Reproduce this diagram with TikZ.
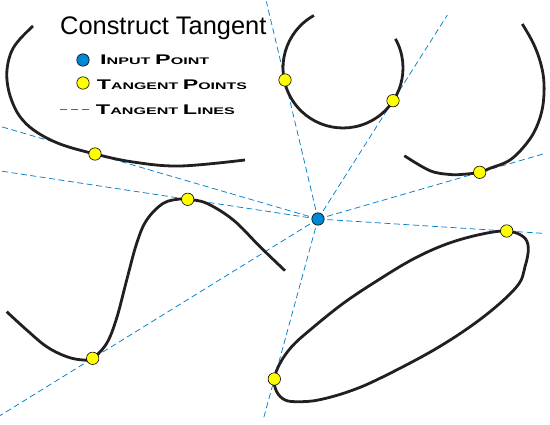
\documentclass[tikz,border=0pt]{standalone}
\usepackage{fontspec}
\setmainfont{Liberation Sans}
\usepackage{graphicx}
\usetikzlibrary{calc}
\definecolor{curvecol}{RGB}{35,31,32}
\definecolor{tblue}{RGB}{0,128,200}
\definecolor{dotblue}{RGB}{0,136,214}
\definecolor{dotyellow}{RGB}{255,255,0}
\newcommand\capsc[2]{{\fontsize{14}{14}\selectfont #1}{\fontsize{9.6}{9.6}\selectfont #2}}
\begin{document}
\begin{tikzpicture}[x=1pt,y=-1pt,
  curveline/.style={line width=2.8pt, draw=curvecol},
  tline/.style={draw=tblue, line width=0.75pt, dash pattern=on 6pt off 3.5pt},
  tpoint/.style={circle, draw=black, line width=0.6pt, fill=dotyellow, minimum size=12.4pt, inner sep=0pt},
  ipoint/.style={circle, draw=black, line width=0.6pt, fill=dotblue, minimum size=12.4pt, inner sep=0pt},
  legend/.style={anchor=base west, inner sep=0pt}]
\useasboundingbox (0,0) rectangle (550,425);
% input and tangent points
\coordinate (P) at (318,219);
\coordinate (T1) at (95,154);
\coordinate (T2) at (187.7,199.3);
\coordinate (T3) at (285,80);
\coordinate (T4) at (393,100.7);
\coordinate (T5) at (479.7,172.3);
\coordinate (T6) at (506.7,231);
\coordinate (T7) at (274.3,379);
\coordinate (T8) at (92.7,358.3);
% tangent lines
\draw[tline] (P) -- ($(P)!1.426!(T1)$);
\draw[tline] (P) -- ($(P)!2.44!(T2)$);
\draw[tline] (P) -- ($(P)!1.565!(T3)$);
\draw[tline] (P) -- ($(P)!1.724!(T4)$);
\draw[tline] (P) -- ($(P)!1.404!(T5)$);
\draw[tline] (P) -- ($(P)!1.187!(T6)$);
\draw[tline] (P) -- ($(P)!1.244!(T7)$);
\draw[tline] (P) -- ($(P)!1.411!(T8)$);
% curves
\draw[curveline] plot[smooth, tension=0.6] coordinates {(33,26) (20,39) (11.7,51) (7.3,67) (7.3,83) (11.5,100) (20,116.7) (35,131) (60,144) (95,154) (133,162) (180,166) (245,160)};
\draw[curveline] (313.9,15.5) arc[start angle=241, end angle=-29, radius=60];
\draw[curveline] plot[smooth, tension=0.6] coordinates {(522.3,24) (533.3,43.3) (540.7,63.3) (544,83.3) (542.7,106.7) (536.7,126.7) (526.7,143.3) (510,160) (490,168.3) (479.7,172.3) (463.3,174.3) (450,174.5) (430,170.7) (404.3,155.7)};
\draw[curveline] plot[smooth, tension=0.6] coordinates {(6.7,311.7) (26.7,330) (46.7,346.7) (66.7,356.7) (83.3,360) (92.7,358.3) (106.7,343.3) (116.7,318) (126.7,280) (136.7,243.3) (146.7,220) (163.3,203.3) (180,199) (187.7,199.3) (206.7,203.3) (233.3,220) (260,246.7) (285,270.7)};
\draw[curveline] plot[smooth cycle, tension=0.6] coordinates {(274.3,379) (280,363.3) (291.7,346.7) (310,330) (343.3,303.3) (378.3,280) (413.3,259) (446.7,244) (480,234.5) (506.7,231) (523.3,236.7) (528.3,248) (525,266.7) (516.7,286.7) (483.3,317) (436.7,348.3) (380,378.3) (348.3,391.7) (318.3,400) (298.3,401.7) (285,400) (276.7,391.7)};
% points
\node[ipoint] (p) at (P) {};
\foreach \i in {1,...,8} {\node[tpoint] (t\i) at (T\i) {};}
% legend
\node[legend] (title) at (60,35) {\fontsize{25.4}{25.4}\selectfont Construct Tangent};
\node[ipoint] (lgi) at (83,60) {};
\node[legend] (li) at (100,64.3) {\resizebox{109pt}{\height}{\bfseries\capsc{I}{NPUT} \capsc{P}{OINT}}};
\node[tpoint] (lgt) at (83,83) {};
\node[legend] (lt) at (96.7,90) {\resizebox{150pt}{\height}{\bfseries\capsc{T}{ANGENT} \capsc{P}{OINTS}}};
\coordinate (ld1) at (60,109.5);
\coordinate (ld2) at (91,109.5);
\draw[tline, dash pattern=on 7pt off 4pt] (ld1) -- (ld2);
\node[legend] (ll) at (95.7,115) {\resizebox{139pt}{\height}{\bfseries\capsc{T}{ANGENT} \capsc{L}{INES}}};
\end{tikzpicture}
\end{document}
